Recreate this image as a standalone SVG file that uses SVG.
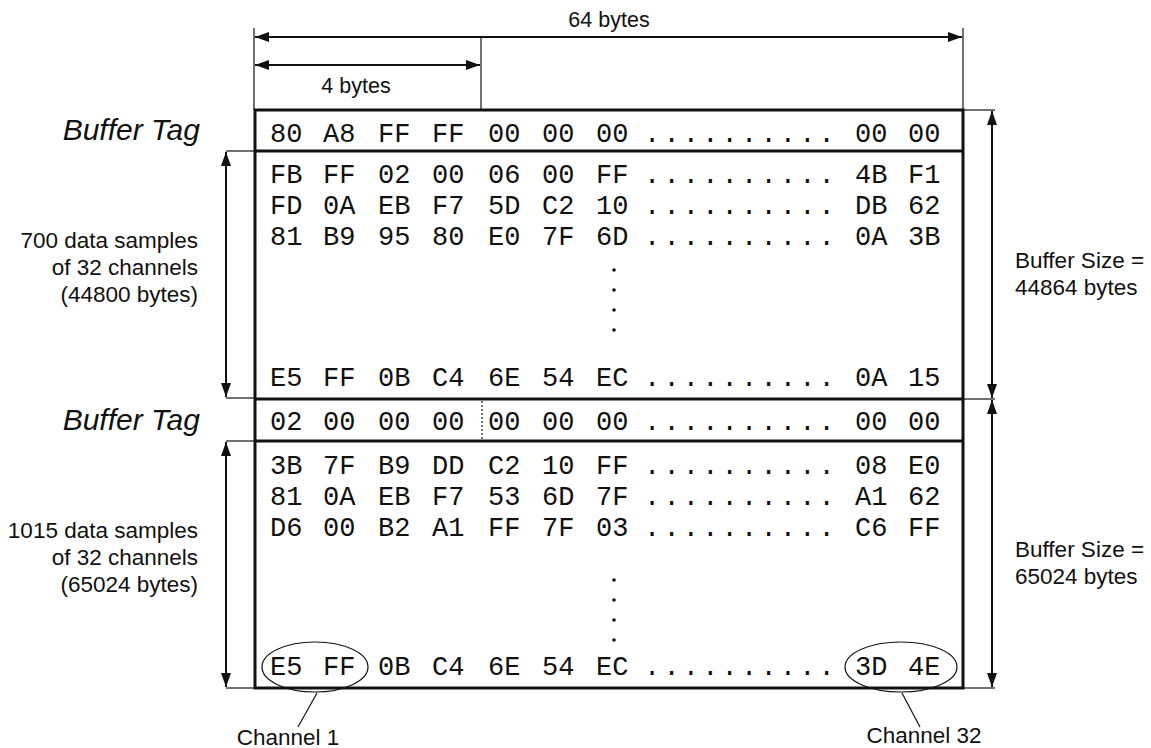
<svg xmlns="http://www.w3.org/2000/svg" width="1151" height="748" viewBox="0 0 1151 748">
<style>
.hex{font-family:"Liberation Mono","Courier New",monospace;font-size:27px;fill:#111}
.lbl{font-family:"Liberation Sans",Arial,sans-serif;font-size:22.5px;fill:#111}
.top{font-family:"Liberation Sans",Arial,sans-serif;font-size:21.5px;fill:#111}
.tag{font-family:"Liberation Sans",Arial,sans-serif;font-size:30px;font-style:italic;fill:#111}
.box{fill:none;stroke:#111;stroke-width:3}
.div{stroke:#111;stroke-width:3}
.dim{stroke:#111;stroke-width:2;fill:none}
.ext{stroke:#111;stroke-width:1.2;fill:none}
.dots{letter-spacing:3.2px}
</style>
<defs>
<marker id="ah" viewBox="0 0 14 10" refX="14" refY="5" markerWidth="14" markerHeight="10" markerUnits="userSpaceOnUse" orient="auto-start-reverse">
<path d="M0,0 L14,5 L0,10 z" fill="#111"/>
</marker>
</defs>
<rect width="1151" height="748" fill="#fff"/>

<g id="dimensions">
<line class="ext" x1="254" y1="28" x2="254" y2="110"/>
<line class="ext" x1="963" y1="28" x2="963" y2="110"/>
<line class="ext" x1="481" y1="37" x2="481" y2="110"/>
<line class="dim" x1="255" y1="37" x2="962" y2="37" marker-start="url(#ah)" marker-end="url(#ah)"/>
<line class="dim" x1="255" y1="65" x2="480" y2="65" marker-start="url(#ah)" marker-end="url(#ah)"/>
<text class="top" x="609" y="27" text-anchor="middle">64 bytes</text>
<text class="top" x="356" y="93" text-anchor="middle">4 bytes</text>
</g>

<g id="connectors">
<line class="ext" x1="226" y1="151" x2="255" y2="151"/>
<line class="ext" x1="226" y1="398" x2="255" y2="398"/>
<line class="ext" x1="226" y1="441" x2="255" y2="441"/>
<line class="ext" x1="226" y1="688" x2="255" y2="688"/>
<line class="dim" x1="226" y1="152" x2="226" y2="397" marker-start="url(#ah)" marker-end="url(#ah)"/>
<line class="dim" x1="226" y1="442" x2="226" y2="687" marker-start="url(#ah)" marker-end="url(#ah)"/>
<line class="ext" x1="963" y1="110" x2="995" y2="110"/>
<line class="ext" x1="963" y1="399" x2="995" y2="399"/>
<line class="ext" x1="963" y1="688" x2="995" y2="688"/>
<line class="dim" x1="992" y1="111" x2="992" y2="398" marker-start="url(#ah)" marker-end="url(#ah)"/>
<line class="dim" x1="992" y1="400" x2="992" y2="687" marker-start="url(#ah)" marker-end="url(#ah)"/>
<line class="ext" x1="317" y1="693" x2="298" y2="727"/>
<line class="ext" x1="902" y1="693" x2="920" y2="727"/>
</g>

<g id="buffer">
<rect class="box" x="255" y="110" width="708" height="578"/>
<line class="div" x1="255" y1="151" x2="963" y2="151"/>
<line class="div" x1="255" y1="399" x2="963" y2="399"/>
<line class="div" x1="255" y1="441" x2="963" y2="441"/>
<line x1="482" y1="401" x2="482" y2="439" stroke="#111" stroke-width="1.2" stroke-dasharray="2,2"/>
</g>

<g id="rows">
<text class="hex" y="142"><tspan x="270">80</tspan><tspan x="323">A8</tspan><tspan x="378">FF</tspan><tspan x="432">FF</tspan><tspan x="488">00</tspan><tspan x="542">00</tspan><tspan x="596">00</tspan><tspan class="dots" x="644">..........</tspan><tspan x="855">00</tspan><tspan x="908">00</tspan></text>
<text class="hex" y="183"><tspan x="270">FB</tspan><tspan x="323">FF</tspan><tspan x="378">02</tspan><tspan x="432">00</tspan><tspan x="488">06</tspan><tspan x="542">00</tspan><tspan x="596">FF</tspan><tspan class="dots" x="644">..........</tspan><tspan x="855">4B</tspan><tspan x="908">F1</tspan></text>
<text class="hex" y="214"><tspan x="270">FD</tspan><tspan x="323">0A</tspan><tspan x="378">EB</tspan><tspan x="432">F7</tspan><tspan x="488">5D</tspan><tspan x="542">C2</tspan><tspan x="596">10</tspan><tspan class="dots" x="644">..........</tspan><tspan x="855">DB</tspan><tspan x="908">62</tspan></text>
<text class="hex" y="245"><tspan x="270">81</tspan><tspan x="323">B9</tspan><tspan x="378">95</tspan><tspan x="432">80</tspan><tspan x="488">E0</tspan><tspan x="542">7F</tspan><tspan x="596">6D</tspan><tspan class="dots" x="644">..........</tspan><tspan x="855">0A</tspan><tspan x="908">3B</tspan></text>
<g fill="#111"><circle cx="614" cy="270" r="1.8"/><circle cx="614" cy="290" r="1.8"/><circle cx="614" cy="310" r="1.8"/><circle cx="614" cy="330" r="1.8"/></g>
<text class="hex" y="386"><tspan x="270">E5</tspan><tspan x="323">FF</tspan><tspan x="378">0B</tspan><tspan x="432">C4</tspan><tspan x="488">6E</tspan><tspan x="542">54</tspan><tspan x="596">EC</tspan><tspan class="dots" x="644">..........</tspan><tspan x="855">0A</tspan><tspan x="908">15</tspan></text>
<text class="hex" y="430"><tspan x="270">02</tspan><tspan x="323">00</tspan><tspan x="378">00</tspan><tspan x="432">00</tspan><tspan x="488">00</tspan><tspan x="542">00</tspan><tspan x="596">00</tspan><tspan class="dots" x="644">..........</tspan><tspan x="855">00</tspan><tspan x="908">00</tspan></text>
<text class="hex" y="474"><tspan x="270">3B</tspan><tspan x="323">7F</tspan><tspan x="378">B9</tspan><tspan x="432">DD</tspan><tspan x="488">C2</tspan><tspan x="542">10</tspan><tspan x="596">FF</tspan><tspan class="dots" x="644">..........</tspan><tspan x="855">08</tspan><tspan x="908">E0</tspan></text>
<text class="hex" y="505"><tspan x="270">81</tspan><tspan x="323">0A</tspan><tspan x="378">EB</tspan><tspan x="432">F7</tspan><tspan x="488">53</tspan><tspan x="542">6D</tspan><tspan x="596">7F</tspan><tspan class="dots" x="644">..........</tspan><tspan x="855">A1</tspan><tspan x="908">62</tspan></text>
<text class="hex" y="536"><tspan x="270">D6</tspan><tspan x="323">00</tspan><tspan x="378">B2</tspan><tspan x="432">A1</tspan><tspan x="488">FF</tspan><tspan x="542">7F</tspan><tspan x="596">03</tspan><tspan class="dots" x="644">..........</tspan><tspan x="855">C6</tspan><tspan x="908">FF</tspan></text>
<g fill="#111"><circle cx="614" cy="580" r="1.8"/><circle cx="614" cy="600" r="1.8"/><circle cx="614" cy="620" r="1.8"/><circle cx="614" cy="640" r="1.8"/></g>
<text class="hex" y="675"><tspan x="270">E5</tspan><tspan x="323">FF</tspan><tspan x="378">0B</tspan><tspan x="432">C4</tspan><tspan x="488">6E</tspan><tspan x="542">54</tspan><tspan x="596">EC</tspan><tspan class="dots" x="644">..........</tspan><tspan x="855">3D</tspan><tspan x="908">4E</tspan></text>
</g>

<g id="channel1">
<ellipse cx="315" cy="667" rx="53" ry="25" fill="none" stroke="#111" stroke-width="1.2"/>
<text class="lbl" x="288" y="745" text-anchor="middle">Channel 1</text>
</g>
<g id="channel32">
<ellipse cx="901" cy="667" rx="56" ry="25" fill="none" stroke="#111" stroke-width="1.2"/>
<text class="lbl" x="924" y="743" text-anchor="middle">Channel 32</text>
</g>

<g id="labels-left">
<text class="tag" x="200" y="140" text-anchor="end">Buffer Tag</text>
<text class="tag" x="200" y="430" text-anchor="end">Buffer Tag</text>
<text class="lbl" text-anchor="end"><tspan x="198" y="248">700 data samples</tspan><tspan x="198" y="275">of 32 channels</tspan><tspan x="198" y="302">(44800 bytes)</tspan></text>
<text class="lbl" text-anchor="end"><tspan x="198" y="538">1015 data samples</tspan><tspan x="198" y="565">of 32 channels</tspan><tspan x="198" y="592">(65024 bytes)</tspan></text>
</g>

<g id="labels-right">
<text class="lbl"><tspan x="1015" y="268">Buffer Size =</tspan><tspan x="1015" y="295">44864 bytes</tspan></text>
<text class="lbl"><tspan x="1015" y="557">Buffer Size =</tspan><tspan x="1015" y="584">65024 bytes</tspan></text>
</g>
</svg>
